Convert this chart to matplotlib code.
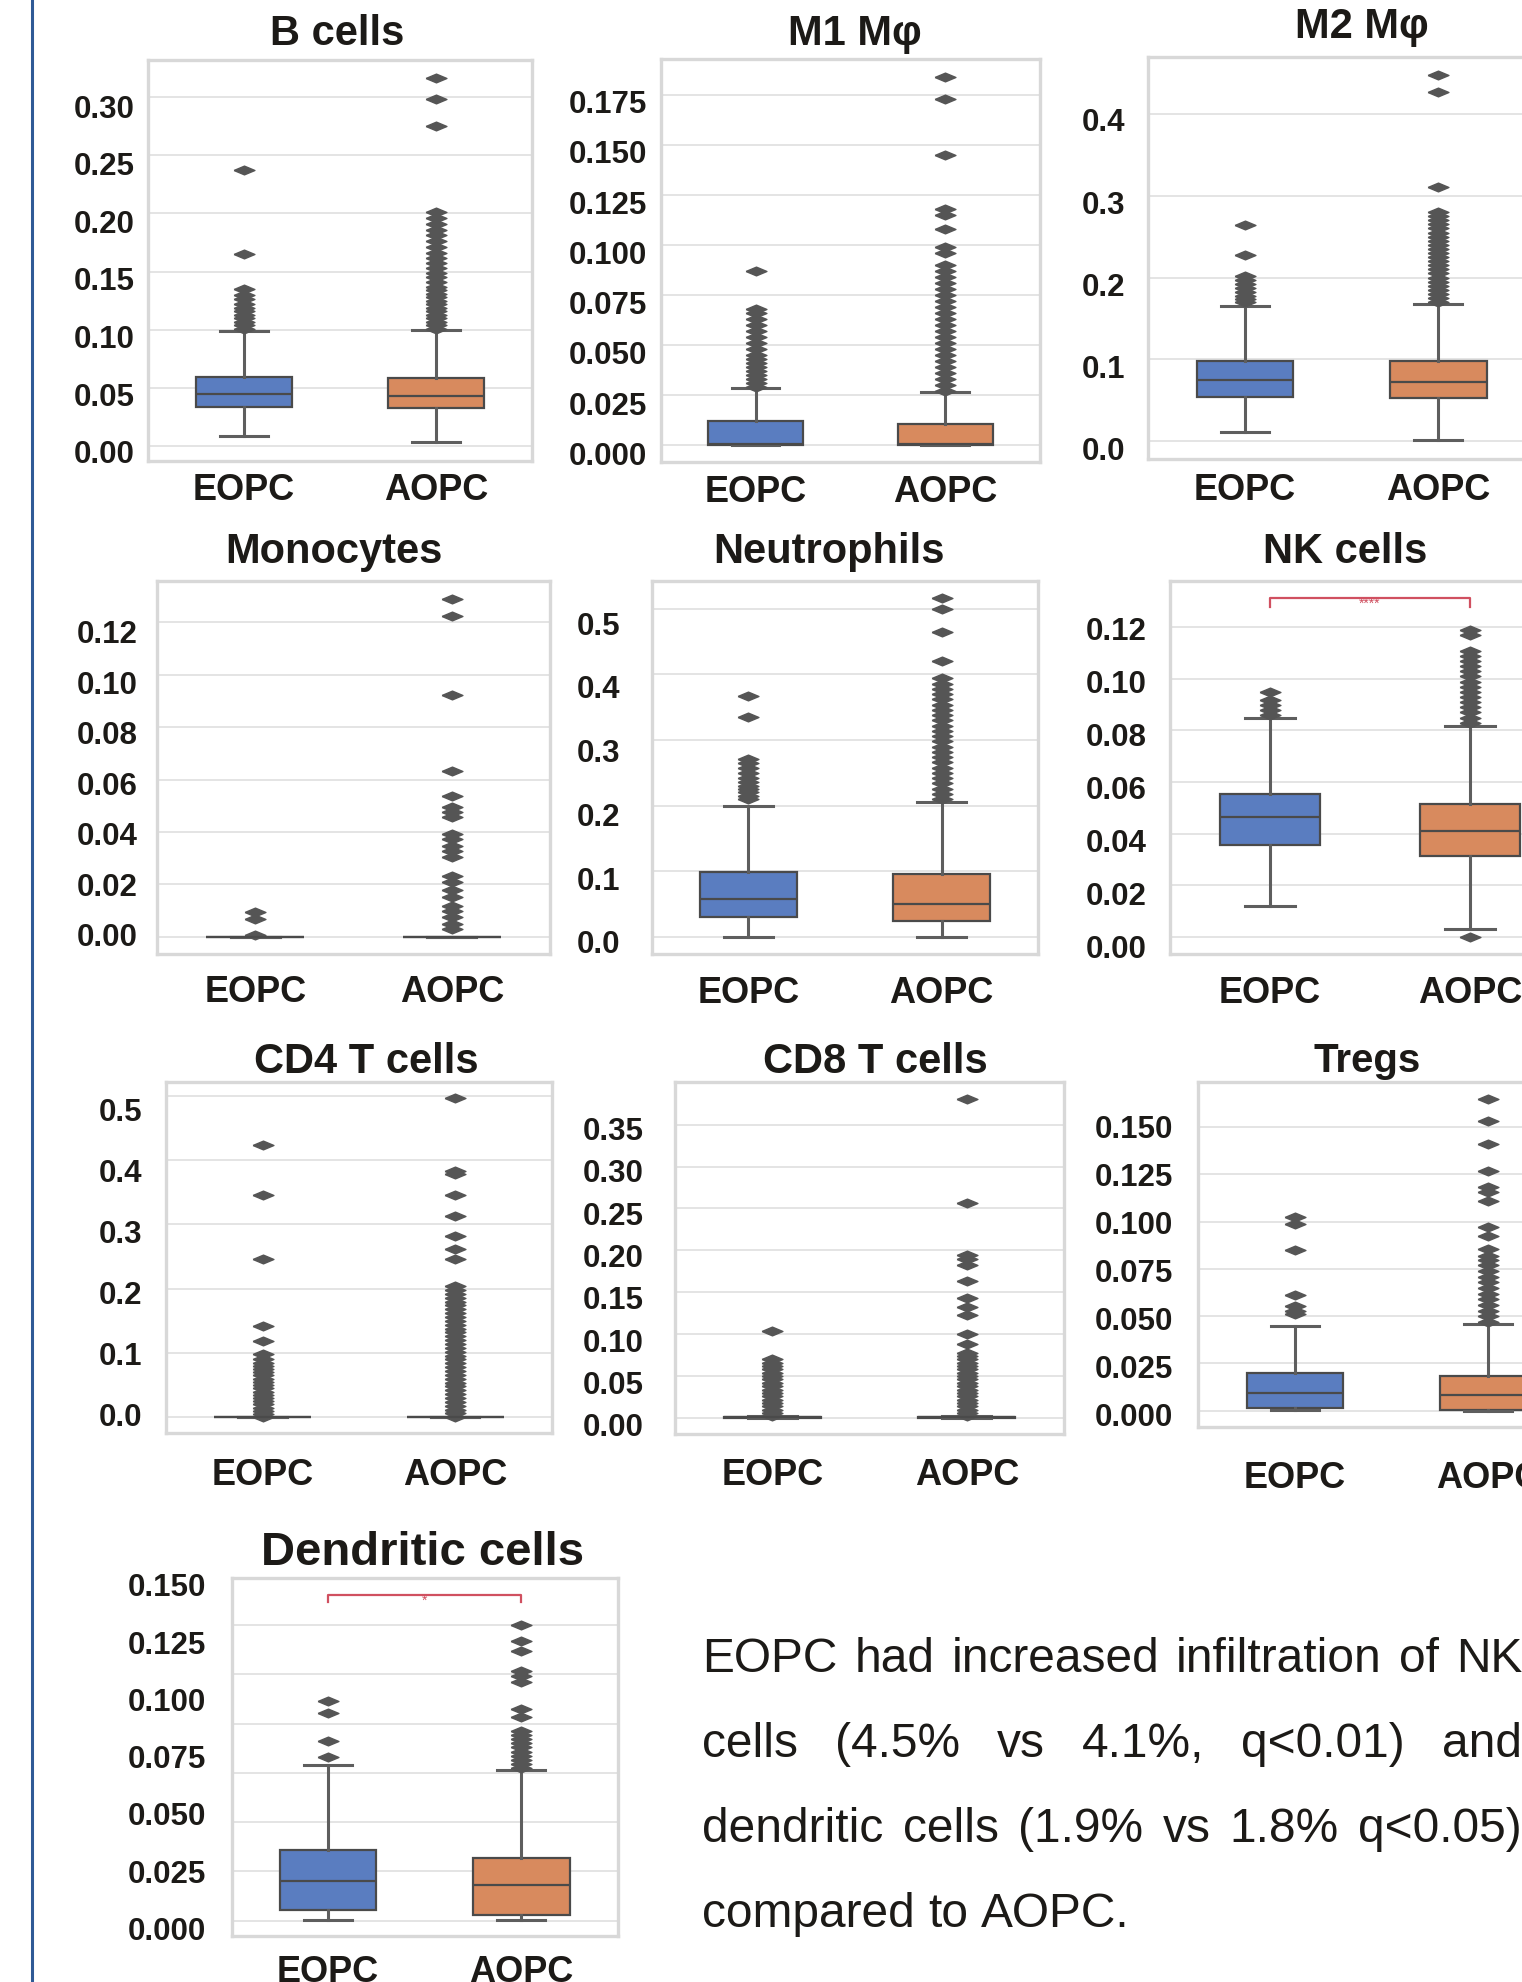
import matplotlib
matplotlib.use("Agg")
import matplotlib.pyplot as plt
from matplotlib.lines import Line2D

W, H = 1522, 1983

groups = ["EOPC", "AOPC"]
box_colors = ["#5a7dc0", "#d88a5e"]

# box stats per group: [whislo, q1, median, q3, whishi]
bcell_box = [[0.0091, 0.0335, 0.0449, 0.0597, 0.0987],
             [0.0040, 0.0326, 0.0434, 0.0590, 0.0998]]
bcell_fliers = [[0.101, 0.104, 0.107, 0.110, 0.113, 0.116, 0.119, 0.122, 0.126, 0.130,
                 0.135, 0.165, 0.237],
                [0.101, 0.104, 0.107, 0.110, 0.113, 0.116, 0.119, 0.122, 0.125, 0.128,
                 0.131, 0.134, 0.137, 0.141, 0.145, 0.149, 0.153, 0.157, 0.162, 0.166,
                 0.171, 0.176, 0.181, 0.186, 0.191, 0.196, 0.201, 0.275, 0.298, 0.316]]

m1_box = [[0.0, 0.0, 0.0005, 0.0120, 0.0282],
          [0.0, 0.0, 0.0005, 0.0104, 0.0262]]
m1_fliers = [[0.029, 0.031, 0.033, 0.035, 0.037, 0.039, 0.041, 0.043, 0.045, 0.048,
              0.051, 0.054, 0.057, 0.060, 0.063, 0.066, 0.068, 0.087],
             [0.027, 0.030, 0.033, 0.036, 0.039, 0.042, 0.045, 0.048, 0.051, 0.054,
              0.057, 0.060, 0.063, 0.066, 0.069, 0.072, 0.075, 0.078, 0.081, 0.084,
              0.087, 0.090, 0.096, 0.099, 0.108, 0.115, 0.118, 0.145, 0.173, 0.184]]

m2_box = [[0.011, 0.0538, 0.0753, 0.0985, 0.165],
          [0.001, 0.0525, 0.0720, 0.0985, 0.168]]
m2_fliers = [[0.170, 0.174, 0.178, 0.182, 0.187, 0.192, 0.197, 0.202, 0.227, 0.264],
             [0.170, 0.175, 0.180, 0.185, 0.190, 0.195, 0.200, 0.205, 0.210, 0.215,
              0.220, 0.225, 0.230, 0.235, 0.240, 0.245, 0.250, 0.255, 0.260, 0.265,
              0.270, 0.275, 0.280, 0.310, 0.427, 0.447]]

mono_box = [[0.0, 0.0, 0.0, 0.0, 0.0],
            [0.0, 0.0, 0.0, 0.0, 0.0]]
mono_fliers = [[0.0007, 0.0068, 0.0093],
               [0.0029, 0.0048, 0.0074, 0.0099, 0.0118, 0.0150, 0.0180, 0.0207, 0.0233,
                0.0303, 0.0328, 0.0347, 0.0373, 0.0392, 0.0456, 0.0475, 0.0494, 0.0538,
                0.0631, 0.0923, 0.1223, 0.1289]]

neut_box = [[0.0, 0.0296, 0.0575, 0.0983, 0.199],
            [0.0, 0.0244, 0.0500, 0.0957, 0.205]]
neut_fliers = [[0.210, 0.215, 0.220, 0.225, 0.230, 0.236, 0.242, 0.250, 0.258, 0.265,
                0.271, 0.335, 0.367],
               [0.210, 0.218, 0.226, 0.234, 0.242, 0.250, 0.258, 0.266, 0.274, 0.282,
                0.290, 0.298, 0.306, 0.314, 0.322, 0.330, 0.338, 0.346, 0.354, 0.362,
                0.370, 0.378, 0.386, 0.394, 0.420, 0.465, 0.500, 0.517]]

nk_box = [[0.0118, 0.0356, 0.0463, 0.0553, 0.0847],
          [0.0030, 0.0314, 0.0411, 0.0515, 0.0818]]
nk_fliers = [[0.086, 0.088, 0.090, 0.092, 0.095],
             [0.0, 0.083, 0.085, 0.087, 0.089, 0.091, 0.093, 0.095, 0.097, 0.099,
              0.101, 0.103, 0.105, 0.107, 0.109, 0.111, 0.117, 0.119]]
nk_bracket = [0.128, 0.1314]

cd4_box = [[0.0, 0.0, 0.0, 0.0, 0.0],
           [0.0, 0.0, 0.0, 0.0, 0.0]]
cd4_fliers = [[0.000, 0.005, 0.010, 0.015, 0.020, 0.025, 0.030, 0.035, 0.040, 0.045,
               0.050, 0.055, 0.060, 0.065, 0.070, 0.075, 0.080, 0.085, 0.090, 0.098,
               0.119, 0.142, 0.246, 0.346, 0.423],
              [0.000, 0.006, 0.012, 0.018, 0.024, 0.030, 0.036, 0.042, 0.048, 0.054,
               0.060, 0.066, 0.072, 0.078, 0.084, 0.090, 0.096, 0.102, 0.108, 0.114,
               0.120, 0.126, 0.132, 0.138, 0.144, 0.150, 0.156, 0.162, 0.168, 0.174,
               0.180, 0.186, 0.192, 0.198, 0.204, 0.246, 0.262, 0.282, 0.313, 0.345,
               0.378, 0.383, 0.496]]

cd8_box = [[0.0, 0.0005, 0.001, 0.0015, 0.002],
           [0.0, 0.0005, 0.001, 0.0015, 0.002]]
cd8_fliers = [[0.002, 0.006, 0.010, 0.014, 0.018, 0.022, 0.026, 0.030, 0.034, 0.038,
               0.042, 0.046, 0.050, 0.054, 0.058, 0.062, 0.066, 0.070, 0.104],
              [0.002, 0.006, 0.010, 0.014, 0.018, 0.022, 0.026, 0.030, 0.034, 0.038,
               0.042, 0.046, 0.050, 0.054, 0.058, 0.062, 0.066, 0.070, 0.074, 0.078,
               0.088, 0.100, 0.123, 0.132, 0.143, 0.164, 0.183, 0.190, 0.194, 0.257,
               0.381]]

tregs_box = [[0.0004, 0.0014, 0.0094, 0.0200, 0.0450],
             [0.0, 0.0004, 0.0085, 0.0185, 0.0459]]
tregs_fliers = [[0.051, 0.053, 0.0556, 0.0614, 0.0852, 0.0988, 0.1024],
                [0.047, 0.050, 0.053, 0.056, 0.059, 0.062, 0.065, 0.068, 0.071, 0.074,
                 0.077, 0.080, 0.082, 0.0856, 0.0926, 0.0974, 0.1112, 0.1156, 0.1183,
                 0.127, 0.1412, 0.1535, 0.165]]

dc_box = [[0.0005, 0.0054, 0.0203, 0.0359, 0.0790],
          [0.0005, 0.0029, 0.0183, 0.0318, 0.0766]]
dc_fliers = [[0.0832, 0.0913, 0.1052, 0.1116],
             [0.0775, 0.0795, 0.0815, 0.0837, 0.0855, 0.0879, 0.0900, 0.0922, 0.0940,
              0.0964, 0.1032, 0.1074, 0.1209, 0.1243, 0.1268, 0.137, 0.142, 0.150]]
dc_bracket = [0.1615, 0.1652]

# y tick values of each panel
ticks_bcell = [0.00, 0.05, 0.10, 0.15, 0.20, 0.25, 0.30]
ticks_m1 = [0.000, 0.025, 0.050, 0.075, 0.100, 0.125, 0.150, 0.175]
ticks_m2 = [0.0, 0.1, 0.2, 0.3, 0.4]
ticks_mono = [0.00, 0.02, 0.04, 0.06, 0.08, 0.10, 0.12]
ticks_neut = [0.0, 0.1, 0.2, 0.3, 0.4, 0.5]
ticks_nk = [0.00, 0.02, 0.04, 0.06, 0.08, 0.10, 0.12]
ticks_cd4 = [0.0, 0.1, 0.2, 0.3, 0.4, 0.5]
ticks_cd8 = [0.00, 0.05, 0.10, 0.15, 0.20, 0.25, 0.30, 0.35]
ticks_tregs = [0.000, 0.025, 0.050, 0.075, 0.100, 0.125, 0.150]
ticks_dc = [0.000, 0.025, 0.050, 0.075, 0.100, 0.125, 0.150]

summary_lines = ["EOPC had increased infiltration of NK",
                 "cells (4.5% vs 4.1%, q<0.01) and",
                 "dendritic cells (1.9% vs 1.8% q<0.05)",
                 "compared to AOPC."]

plt.rcParams["font.family"] = ["Liberation Sans", "DejaVu Sans"]
TXT = "#1c1a17"

fig = plt.figure(figsize=(W / 100, H / 100), dpi=100)
fig.patch.set_facecolor("white")


def px_rect(l, t, r, b):
    return [l / W, 1 - b / H, (r - l) / W, (b - t) / H]


def draw_panel(title, box, fliers, ticks, fmt, rect, ylim, lab, tpos, tsize, xpad,
               bracket=None, stars=""):
    ax = fig.add_axes(px_rect(*rect))
    stats = [dict(whislo=s[0], q1=s[1], med=s[2], q3=s[3], whishi=s[4], fliers=f)
             for s, f in zip(box, fliers)]
    diamond = [(-1, 0), (0, 0.42), (1, 0), (0, -0.42), (-1, 0)]
    bp = ax.bxp(stats, positions=[0, 1], widths=0.5, capwidths=0.25,
                patch_artist=True, showfliers=True,
                boxprops=dict(edgecolor="#4a4a4a", linewidth=1.6),
                medianprops=dict(color="#4a4a4a", linewidth=1.6),
                whiskerprops=dict(color="#5e5e5e", linewidth=2.2),
                capprops=dict(color="#5e5e5e", linewidth=2.2),
                flierprops=dict(marker=diamond, markersize=15, markerfacecolor="#555555",
                                markeredgecolor="#555555", linestyle="none"))
    for patch, c in zip(bp["boxes"], box_colors):
        patch.set_facecolor(c)
    ax.set_xlim(-0.5, 1.5)
    ax.set_ylim(*ylim)
    ax.set_yticks(ticks)
    ax.tick_params(axis="y", labelleft=False, length=0)
    ax.grid(axis="y", color="#e4e4e4", linewidth=1.4)
    ax.set_axisbelow(True)
    ax.set_xticks([0, 1])
    ax.set_xticklabels(groups, fontsize=26, fontweight="bold", color=TXT)
    ax.tick_params(axis="x", length=0, pad=xpad)
    for sp in ax.spines.values():
        sp.set_color("#d8d8d8")
        sp.set_linewidth(2.4)
    if bracket is not None:
        lo, hi = bracket
        ax.plot([0, 0, 1, 1], [lo, hi, hi, lo], color="#d05060", linewidth=1.6,
                clip_on=False)
        ax.text(0.5, hi - (hi - lo) * 0.6, stars, ha="center", va="center",
                fontsize=10, color="#d05060")

    # tick labels were placed a little apart from the grid in the original
    lx, ly_top, ly_bot = lab
    lax = fig.add_axes(px_rect(lx, ly_top, lx + 1, ly_bot))
    lax.set_ylim(ticks[0], ticks[-1])
    lax.set_yticks(ticks)
    lax.set_yticklabels([fmt % v for v in ticks], fontsize=22.5, fontweight="bold",
                        color=TXT)
    lax.tick_params(axis="y", length=0, pad=0)
    lax.set_xticks([])
    for sp in lax.spines.values():
        sp.set_visible(False)
    lax.patch.set_alpha(0)

    fig.text(tpos[0] / W, 1 - tpos[1] / H, title, ha="center", va="baseline",
             fontsize=tsize, fontweight="bold", color=TXT)


draw_panel("B cells", bcell_box, bcell_fliers, ticks_bcell, "%.2f",
           (148.2, 61, 532.1, 462), (-0.0126, 0.3315), (135, 106, 451.7), (337.5, 45), 30, 7.9)
draw_panel("M1 Mφ", m1_box, m1_fliers, ticks_m1, "%.3f",
           (660.7, 60, 1040, 463), (-0.0087, 0.193), (646.7, 101.7, 453.3), (855, 45), 30, 8.4)
draw_panel("M2 Mφ", m2_box, m2_fliers, ticks_m2, "%.1f",
           (1148.3, 58.3, 1535, 460), (-0.0216, 0.469), (1125, 120, 448.3), (1361.7, 38.3), 30, 9.4)
draw_panel("Monocytes", mono_box, mono_fliers, ticks_mono, "%.2f",
           (157.1, 581.7, 550, 955), (-0.0066, 0.1359), (137.5, 631.7, 935), (334, 563.3), 30, 14.2)
draw_panel("Neutrophils", neut_box, neut_fliers, ticks_neut, "%.1f",
           (651.7, 581.7, 1038.3, 955), (-0.0264, 0.543), (620, 623.3, 941.7), (829, 563.3), 30, 15.1)
draw_panel("NK cells", nk_box, nk_fliers, ticks_nk, "%.2f",
           (1170, 581.7, 1570, 955), (-0.0067, 0.1381), (1146.7, 628.3, 946.7), (1344.7, 563.3), 30, 15.1,
           bracket=nk_bracket, stars="****")
draw_panel("CD4 T cells", cd4_box, cd4_fliers, ticks_cd4, "%.1f",
           (166.1, 1083.3, 551.8, 1434.3), (-0.0249, 0.5208), (142.1, 1110, 1415), (366, 1073.3), 30, 17)
draw_panel("CD8 T cells", cd8_box, cd8_fliers, ticks_cd8, "%.2f",
           (675, 1083.3, 1064, 1435), (-0.0191, 0.4006), (644, 1128.3, 1425), (875, 1072.7), 30, 16.6)
draw_panel("Tregs", tregs_box, tregs_fliers, ticks_tregs, "%.3f",
           (1198.3, 1083.3, 1585, 1427.7), (-0.0085, 0.1738), (1173.3, 1126.7, 1415), (1366.7, 1071.7), 29, 24.2)
draw_panel("Dendritic cells", dc_box, dc_fliers, ticks_dc, "%.3f",
           (231.5, 1579.3, 617.8, 1936.7), (-0.0076, 0.1737), (206.2, 1585, 1928.3), (423, 1565), 34, 13,
           bracket=dc_bracket, stars="*")

# blue rule on the left edge
fig.add_artist(Line2D([31.7 / W, 31.7 / W], [0, 1], color="#2f5a96", linewidth=2.2))

# justified summary paragraph
x_left, x_right = 702, 1522
baselines = [1671.7, 1756.7, 1841.7, 1926.7]
fs_body = 34.5
renderer = fig.canvas.get_renderer()
for i, (line, yb) in enumerate(zip(summary_lines, baselines)):
    words = line.split()
    texts = [fig.text(0, 1 - yb / H, w, fontsize=fs_body, color=TXT, va="baseline")
             for w in words]
    widths = [t.get_window_extent(renderer).width for t in texts]
    if i < len(summary_lines) - 1:
        gap = (x_right - x_left - sum(widths)) / (len(words) - 1)
    else:
        gap = 0.278 * fs_body * 100 / 72
    x = x_left
    for t, w in zip(texts, widths):
        t.set_x(x / W)
        x += w + gap

fig.savefig("out.png", dpi=100, facecolor="white")
